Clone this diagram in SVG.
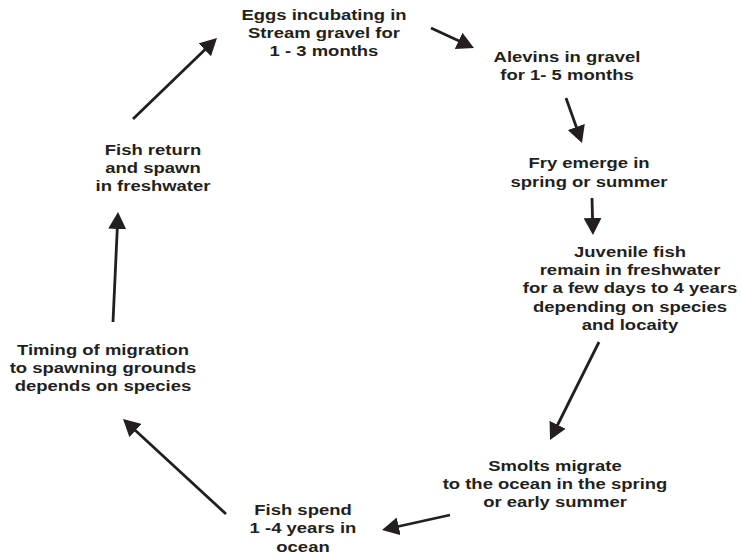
<svg xmlns="http://www.w3.org/2000/svg" width="741" height="558" viewBox="0 0 741 558">
  <style>
    .lbl { font-family: "Liberation Sans", Arial, sans-serif; font-weight: bold; font-size: 15.4px; fill: #231f20; text-anchor: middle; }
    .arr { stroke: #231f20; stroke-width: 2.8; fill: none; marker-end: url(#head); }
  </style>
  <defs>
    <marker id="head" viewBox="0 0 17 18" markerWidth="17" markerHeight="18" refX="3" refY="9" markerUnits="userSpaceOnUse" orient="auto">
      <path d="M0,0 L17,9 L0,18 z" fill="#231f20"/>
    </marker>
  </defs>
  <rect width="741" height="558" fill="#ffffff"/>

  <g id="eggs" transform="translate(324,0) scale(1.2,1)">
    <text class="lbl" x="0" y="20">Eggs incubating in</text>
    <text class="lbl" x="0" y="38">Stream gravel for</text>
    <text class="lbl" x="0" y="56">1 - 3 months</text>
  </g>
  <g id="alevins" transform="translate(567,0) scale(1.2,1)">
    <text class="lbl" x="0" y="62">Alevins in gravel</text>
    <text class="lbl" x="0" y="80">for 1- 5 months</text>
  </g>
  <g id="fry" transform="translate(589,0) scale(1.2,1)">
    <text class="lbl" x="0" y="168">Fry emerge in</text>
    <text class="lbl" x="0" y="187">spring or summer</text>
  </g>
  <g id="juvenile" transform="translate(630,0) scale(1.2,1)">
    <text class="lbl" x="0" y="257">Juvenile fish</text>
    <text class="lbl" x="0" y="275">remain in freshwater</text>
    <text class="lbl" x="0" y="293">for a few days to 4 years</text>
    <text class="lbl" x="0" y="312">depending on species</text>
    <text class="lbl" x="0" y="330">and locaity</text>
  </g>
  <g id="smolts" transform="translate(555,0) scale(1.2,1)">
    <text class="lbl" x="0" y="471">Smolts migrate</text>
    <text class="lbl" x="0" y="489">to the ocean in the spring</text>
    <text class="lbl" x="0" y="507">or early summer</text>
  </g>
  <g id="ocean" transform="translate(303,0) scale(1.2,1)">
    <text class="lbl" x="0" y="515">Fish spend</text>
    <text class="lbl" x="0" y="533">1 -4 years in</text>
    <text class="lbl" x="0" y="552">ocean</text>
  </g>
  <g id="timing" transform="translate(103,0) scale(1.2,1)">
    <text class="lbl" x="0" y="355">Timing of migration</text>
    <text class="lbl" x="0" y="373">to spawning grounds</text>
    <text class="lbl" x="0" y="391">depends on species</text>
  </g>
  <g id="return" transform="translate(153,0) scale(1.2,1)">
    <text class="lbl" x="0" y="155">Fish return</text>
    <text class="lbl" x="0" y="173">and spawn</text>
    <text class="lbl" x="0" y="191">in freshwater</text>
  </g>

  <g id="connectors">
    <line class="arr" x1="133" y1="119" x2="206.9" y2="47.7"/>
    <line class="arr" x1="431" y1="28" x2="461.3" y2="42.1"/>
    <line class="arr" x1="566" y1="98" x2="577.3" y2="129.8"/>
    <line class="arr" x1="592" y1="198" x2="592.6" y2="221"/>
    <line class="arr" x1="599" y1="342" x2="556.3" y2="427.5"/>
    <line class="arr" x1="450" y1="515" x2="395.7" y2="527"/>
    <line class="arr" x1="226" y1="514" x2="133.3" y2="428.5"/>
    <line class="arr" x1="113" y1="322" x2="117.4" y2="226"/>
  </g>
</svg>
